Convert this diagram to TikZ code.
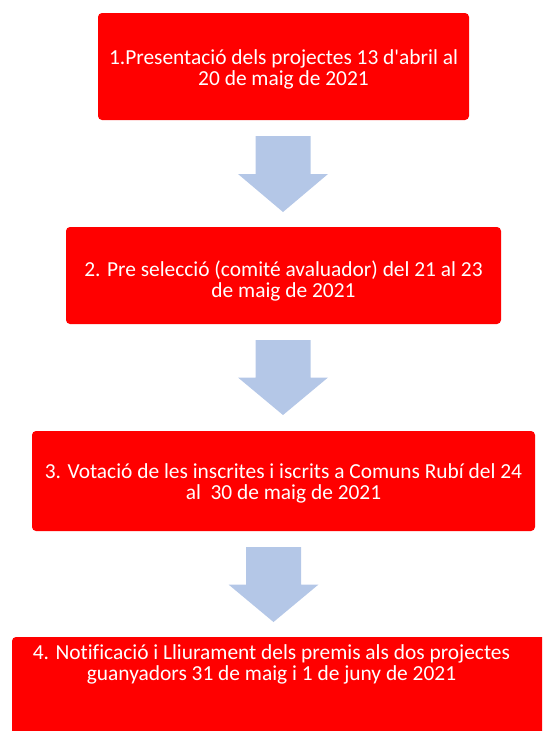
\documentclass[tikz,border=0pt]{standalone}
\usepackage{fontspec}
\setmainfont{Carlito}[Ligatures=CommonOff]
\usetikzlibrary{positioning}
\definecolor{boxred}{HTML}{FF0000}
\definecolor{arrowblue}{HTML}{B4C7E7}
\tikzset{
  stepbox/.style={fill=boxred, rounded corners=4pt, inner sep=0pt},
  steptext/.style={text=white, align=center, font=\fontsize{21.4}{21}\selectfont, inner sep=0pt},
}
% block arrow: centre x, top y, tip y
\newcommand{\flowarrow}[3]{%
  \fill[arrowblue] (#1-27.5,#2) -- (#1+27.5,#2) -- (#1+27.5,{(#2+#3)/2})
    -- (#1+45,{(#2+#3)/2}) -- (#1,#3) -- (#1-45,{(#2+#3)/2})
    -- (#1-27.5,{(#2+#3)/2}) -- cycle;}
\begin{document}
\begin{tikzpicture}[x=1pt, y=-1pt]
\clip (0,0) rectangle (542,731);
\node[stepbox, minimum width=371pt, minimum height=107pt] (b1) at (283.5,66.5) {};
\node[steptext] (t1) at (283.5,69) {1.Presentació dels projectes 13 d\textquotesingle abril al\\20 de maig de 2021};
\node[stepbox, minimum width=435pt, minimum height=97pt] (b2) at (283.5,275.5) {};
\node[steptext] (t2) at (283.5,281) {2. Pre selecció (comité avaluador) del 21 al 23\\de maig de 2021};
\node[stepbox, minimum width=503pt, minimum height=100pt] (b3) at (283.5,481) {};
\node[steptext] (t3) at (283.5,483) {3. Votació de les inscrites i iscrits a Comuns Rubí del 24\\al\ \ 30 de maig de 2021};
\fill[boxred, rounded corners=4pt] (12,637) rectangle (570,770);
\node[steptext] (t4) at (271.5,664) {4. Notificació i Lliurament dels premis als dos projectes\\guanyadors 31 de maig i 1 de juny de 2021};
% arrows between the steps
\flowarrow{283}{136}{212}
\flowarrow{283}{340}{415}
\flowarrow{273.5}{547}{622}
\end{tikzpicture}
\end{document}
